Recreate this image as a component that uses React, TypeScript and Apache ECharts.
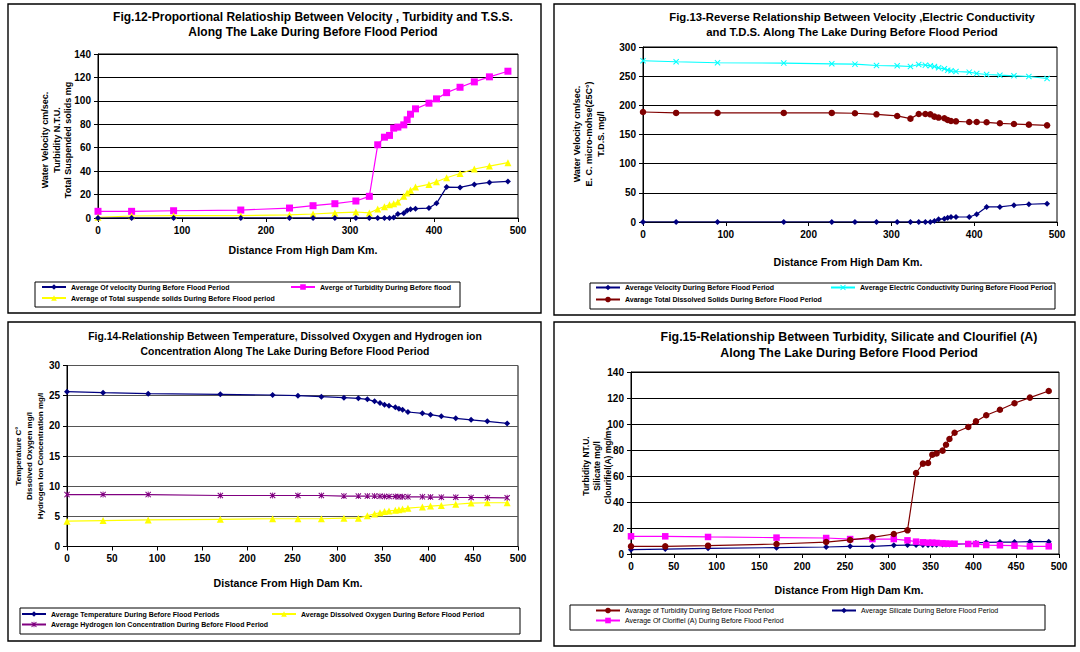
import React, { useEffect, useRef } from 'react';
import * as echarts from 'echarts';

const distance = [0, 40, 90, 170, 228, 256, 282, 307, 323, 333, 341, 347, 352, 357, 364, 368, 372, 378, 394, 403, 415, 431, 448, 466, 488];

// Fig.12
const velocity12 = [0, 0, 0, 0, 0, 0, 0, 0, 0, 0, 0, 0, 0.5, 3.5, 4.0, 6.5, 7.5, 8.0, 8.5, 12.5, 26.4, 26.1, 28.7, 30.4, 31.2];
const turbidity12 = [5.7, 5.7, 6.2, 6.8, 8.5, 10.5, 12.2, 14.5, 18.5, 62.5, 69, 70.5, 76.7, 77.6, 79.5, 83.8, 88.6, 93.2, 98, 101.7, 107, 111.6, 116.2, 120.5, 125.3];
const tss12 = [0.6, 1.7, 2, 2, 2.6, 3.4, 4.3, 5.1, 4.3, 7.7, 9.7, 11.4, 12.2, 13.6, 18.5, 21.3, 23.6, 26.4, 28.7, 31, 34.4, 38, 41.8, 44.3, 47.2];

// Fig.13
const velocity13 = [0, 0, 0, 0, 0, 0, 0, 0, 0, 0, 0, 0, 1.7, 4.6, 5.7, 7.5, 8.6, 8.6, 8.6, 13.2, 25.8, 25.8, 28.7, 30.4, 31.5];
const ec13 = [276.4, 274.7, 273, 272.4, 271.2, 270.6, 268.3, 267.8, 266.6, 270, 268.9, 267.8, 266.6, 264.3, 262.6, 260.3, 259.2, 258, 256.9, 254.6, 252.9, 251.7, 250.6, 249.4, 246];
const tds13 = [188.6, 187, 187, 187, 187, 186.4, 184.6, 181.8, 177.2, 185.2, 185.2, 184.6, 180.6, 179, 177.8, 174.9, 173.2, 172.6, 171.4, 171.4, 170.9, 169.2, 168, 166.9, 165.7];

// Fig.14
const temp14 = [25.66, 25.5, 25.33, 25.22, 25.11, 25.0, 24.83, 24.67, 24.56, 24.39, 24.06, 23.78, 23.5, 23.34, 23.06, 22.84, 22.68, 22.29, 22.07, 21.85, 21.57, 21.24, 21.0, 20.74, 20.4];
const do14 = [4.2, 4.3, 4.4, 4.5, 4.6, 4.6, 4.6, 4.7, 4.7, 5.1, 5.4, 5.6, 5.8, 5.9, 6.0, 6.1, 6.2, 6.35, 6.55, 6.7, 6.8, 7.0, 7.2, 7.25, 7.25];
const ph14 = [8.6, 8.6, 8.6, 8.45, 8.45, 8.45, 8.45, 8.35, 8.35, 8.35, 8.35, 8.33, 8.3, 8.3, 8.28, 8.25, 8.25, 8.23, 8.23, 8.2, 8.18, 8.15, 8.12, 8.1, 8.07];

// Fig.15
const turbidity15 = [5.9, 5.9, 6.4, 7.7, 9.2, 10.8, 12.8, 15.4, 18.2, 62.3, 69.5, 70, 76.4, 77.4, 79.5, 84, 88.5, 93.3, 97.7, 102, 106.7, 111, 116, 120.3, 125.4];
const silicate15 = [3.3, 3.8, 4.4, 4.9, 5.4, 5.9, 5.9, 6.7, 6.9, 6.9, 7.0, 7.0, 7.2, 7.2, 7.4, 7.4, 7.4, 7.6, 7.9, 8.5, 9.0, 9.2, 9.2, 9.5, 9.5];
const chloro15 = [13.6, 13.6, 13.1, 12.6, 12.3, 11.5, 11.5, 11.5, 10.5, 9.5, 9, 8.7, 8.7, 8.5, 8.2, 7.9, 7.9, 7.9, 7.7, 7.7, 6.9, 6.7, 6.4, 5.9, 5.9];

// axis ranges
const yMax = [140, 300, 30, 140];
const yStep = [20, 50, 5, 20];
const xStep = [100, 100, 50, 50];

const titles = [
  ['Fig.12-Proportional Relatioship Between Velocity , Turbidity and T.S.S.', 'Along The Lake During Before Flood Period'],
  ['Fig.13-Reverse Relationship Between Velocity ,Electric Conductivity', 'and T.D.S. Along The Lake During Before Flood Period'],
  ['Fig.14-Relationship Between Temperature, Dissolved Oxygen and Hydrogen ion', 'Concentration Along The Lake During Before Flood Period'],
  ['Fig.15-Relationship Between Turbidity, Silicate and Clourifiel (A)', 'Along The Lake During Before Flood Period'],
];
const yTitles = [
  ['Water Velocity cm/sec.', 'Turbidity N.T.U.', 'Total Suspended solids mg'],
  ['Water Velocity cm/sec.', 'E. C. micro-mohse(25C°)', 'T.D.S. mg/l'],
  ['Temperature C°', 'Dissolved Oxygen mg/l', 'Hydrogen Ion Concentration mg/l'],
  ['Turbidity NT.U.', 'Silicate mg/l', 'Clourifiel(A) mg/m³'],
];
const xTitle = 'Distance From High Dam Km.';

const names = [
  ['Average Of velocity During Before Flood Period', 'Averge of Turbidity During Before flood', 'Average of Total suspende solids During Before Flood period'],
  ['Average Velocity During Before Flood Period', 'Average Electric Conductivity During Before Flood Period', 'Avarage Total Dissolved Solids During Before Flood Period'],
  ['Average Temperature During Before Flood Periods', 'Average Dissolved Oxygen During Before Flood Period', 'Average Hydrogen Ion Concentration During Before Flood Period'],
  ['Avarage of Turbidity During Before Flood Period', 'Average Silicate During Before Flood Period', 'Average Of Clorifiel (A) During Before Flood Period'],
];

const FONT = '"Liberation Sans", Arial, sans-serif';
const NAVY = '#000080';
const MAGENTA = '#FF00FF';
const YELLOW = '#FFFF00';
const CYAN = '#00FFFF';
const DARKRED = '#800000';
const PURPLE = '#800080';

const XMARK = 'path://M0,1.2 L1.2,0 L5,3.8 L8.8,0 L10,1.2 L6.2,5 L10,8.8 L8.8,10 L5,6.2 L1.2,10 L0,8.8 L3.8,5 Z';
const STAR = 'path://M0,1.2 L1.2,0 L5,3.8 L8.8,0 L10,1.2 L6.2,5 L10,8.8 L8.8,10 L5,6.2 L1.2,10 L0,8.8 L3.8,5 Z M4.3,0 L5.7,0 L5.7,10 L4.3,10 Z';

const grids = [
  { left: 98, top: 54, width: 420, height: 164 },
  { left: 643, top: 47, width: 414, height: 175 },
  { left: 67, top: 365.5, width: 451, height: 181 },
  { left: 631, top: 372, width: 428, height: 182 },
];

const panels = [
  { x: 8, y: 4, w: 533, h: 309 },
  { x: 554, y: 4, w: 521, h: 311 },
  { x: 8, y: 322, w: 533, h: 319 },
  { x: 554, y: 322, w: 521, h: 324 },
];

const legendBoxes = [
  { x: 35, y: 282, w: 425, h: 25 },
  { x: 590, y: 283, w: 465, h: 26 },
  { x: 20, y: 608, w: 500, h: 26 },
  { x: 570, y: 605, w: 475, h: 25 },
];

const legendPos = [
  { l1: 41, l2: 290, top: 283.5, gap: 4, bold: 'bold' },
  { l1: 595, l2: 830, top: 284, gap: 5, bold: 'bold' },
  { l1: 21, l2: 271, top: 610.5, gap: 3.5, bold: 'bold' },
  { l1: 595, l2: 831, top: 607, gap: 3, bold: 'normal' },
];

const titlePos = [
  { cx: 313, y1: 17, y2: 32, size: 12 },
  { cx: 852, y1: 17, y2: 32, size: 11.3 },
  { cx: 285, y1: 336, y2: 351, size: 10.4 },
  { cx: 849, y1: 337, y2: 353, size: 12.4 },
];

const yTitlePos = [
  { xs: [45, 57, 68], cy: 140, size: 9 },
  { xs: [577, 589, 601], cy: 134, size: 9 },
  { xs: [18, 29, 40], cy: 456, size: 8 },
  { xs: [586, 597, 608], cy: 466, size: 8.5 },
];

const xTitlePos = [
  { cx: 303, y: 250 },
  { cx: 848, y: 262 },
  { cx: 288, y: 583 },
  { cx: 849, y: 590 },
];

function pts(arr: number[]) {
  return distance.map((d, i) => [d, arr[i]]);
}

export default function App() {
  const ref = useRef<HTMLDivElement>(null);
  useEffect(() => {
    if (!ref.current) return;
    const chart = echarts.init(ref.current, undefined, { renderer: 'svg' });

    const seriesDefs = [
      [
        { data: velocity12, color: NAVY, symbol: 'diamond', size: 6 },
        { data: turbidity12, color: MAGENTA, symbol: 'rect', size: 7 },
        { data: tss12, color: YELLOW, symbol: 'triangle', size: 7 },
      ],
      [
        { data: velocity13, color: NAVY, symbol: 'diamond', size: 6 },
        { data: ec13, color: CYAN, symbol: XMARK, size: 6 },
        { data: tds13, color: DARKRED, symbol: 'circle', size: 6.5 },
      ],
      [
        { data: temp14, color: NAVY, symbol: 'diamond', size: 6 },
        { data: do14, color: YELLOW, symbol: 'triangle', size: 7 },
        { data: ph14, color: PURPLE, symbol: STAR, size: 6 },
      ],
      [
        { data: turbidity15, color: DARKRED, symbol: 'circle', size: 6.5 },
        { data: silicate15, color: NAVY, symbol: 'diamond', size: 6 },
        { data: chloro15, color: MAGENTA, symbol: 'rect', size: 6.5 },
      ],
    ];

    const series: any[] = [];
    seriesDefs.forEach((defs, p) => {
      defs.forEach((s, k) => {
        series.push({
          type: 'line',
          name: names[p][k],
          xAxisIndex: p,
          yAxisIndex: p,
          data: pts(s.data),
          symbol: s.symbol,
          symbolSize: s.size,
          showSymbol: true,
          lineStyle: { color: s.color, width: 1.2 },
          itemStyle: { color: s.color },
          z: 3 + (k === 0 ? 2 : 0),
        });
      });
    });

    const xAxis = grids.map((_, i) => ({
      type: 'value',
      gridIndex: i,
      min: 0,
      max: 500,
      interval: xStep[i],
      axisLine: { show: true, onZero: false, lineStyle: { color: '#000', width: 1 } },
      axisTick: { show: true, length: 4, lineStyle: { color: '#000' } },
      splitLine: { show: false },
      axisLabel: { color: '#000', fontSize: 10, fontWeight: 'bold', fontFamily: FONT, margin: 7 },
    }));

    const yAxis = grids.map((_, i) => ({
      type: 'value',
      gridIndex: i,
      min: 0,
      max: yMax[i],
      interval: yStep[i],
      axisLine: { show: true, lineStyle: { color: '#000', width: 1 } },
      axisTick: { show: true, length: 4, lineStyle: { color: '#000' } },
      splitLine: { show: true, lineStyle: { color: i === 2 ? '#555' : '#000', width: 1 } },
      axisLabel: { color: '#000', fontSize: 10, fontWeight: 'bold', fontFamily: FONT, margin: 7 },
    }));

    const legend: any[] = [];
    legendPos.forEach((lp, p) => {
      const ts = { fontSize: 7, fontFamily: FONT, fontWeight: lp.bold, color: '#000' };
      legend.push({
        data: [names[p][0], names[p][2]],
        orient: 'vertical',
        left: lp.l1,
        top: lp.top,
        itemWidth: 24,
        itemHeight: 7,
        itemGap: lp.gap,
        padding: 0,
        selectedMode: false,
        textStyle: ts,
      });
      legend.push({
        data: [names[p][1]],
        orient: 'vertical',
        left: lp.l2,
        top: lp.top,
        itemWidth: 24,
        itemHeight: 7,
        itemGap: lp.gap,
        padding: 0,
        selectedMode: false,
        textStyle: ts,
      });
    });

    const graphic: any[] = [];
    panels.forEach((b) => {
      graphic.push({
        type: 'rect',
        shape: { x: b.x, y: b.y, width: b.w, height: b.h },
        style: { fill: 'none', stroke: '#000', lineWidth: 1.4 },
        z: 0,
        silent: true,
      });
    });
    legendBoxes.forEach((b) => {
      graphic.push({
        type: 'rect',
        shape: { x: b.x, y: b.y, width: b.w, height: b.h },
        style: { fill: '#fff', stroke: '#000', lineWidth: 1 },
        z: 0,
        silent: true,
      });
    });
    titlePos.forEach((t, p) => {
      [t.y1, t.y2].forEach((yy, k) => {
        graphic.push({
          type: 'text',
          x: t.cx,
          y: yy,
          style: {
            text: titles[p][k],
            fill: '#000',
            font: `bold ${t.size}px ${FONT}`,
            textAlign: 'center',
            textVerticalAlign: 'middle',
          },
        });
      });
    });
    yTitlePos.forEach((t, p) => {
      t.xs.forEach((xx, k) => {
        graphic.push({
          type: 'text',
          x: xx,
          y: t.cy,
          rotation: Math.PI / 2,
          style: {
            text: yTitles[p][k],
            fill: '#000',
            font: `bold ${t.size}px ${FONT}`,
            textAlign: 'center',
            textVerticalAlign: 'middle',
          },
        });
      });
    });
    xTitlePos.forEach((t) => {
      graphic.push({
        type: 'text',
        x: t.cx,
        y: t.y,
        style: {
          text: xTitle,
          fill: '#000',
          font: `bold 10.6px ${FONT}`,
          textAlign: 'center',
          textVerticalAlign: 'middle',
        },
      });
    });

    chart.setOption({
      animation: false,
      backgroundColor: '#fff',
      grid: grids.map((g) => ({ ...g, show: true, borderColor: '#000', borderWidth: 1, backgroundColor: '#fff', containLabel: false })),
      xAxis,
      yAxis,
      legend,
      series,
      graphic,
    });
    return () => chart.dispose();
  }, []);

  return (
    <div
      ref={ref}
      style={{ position: 'fixed', left: 0, top: 0, width: 1080, height: 652, background: '#fff' }}
    />
  );
}
